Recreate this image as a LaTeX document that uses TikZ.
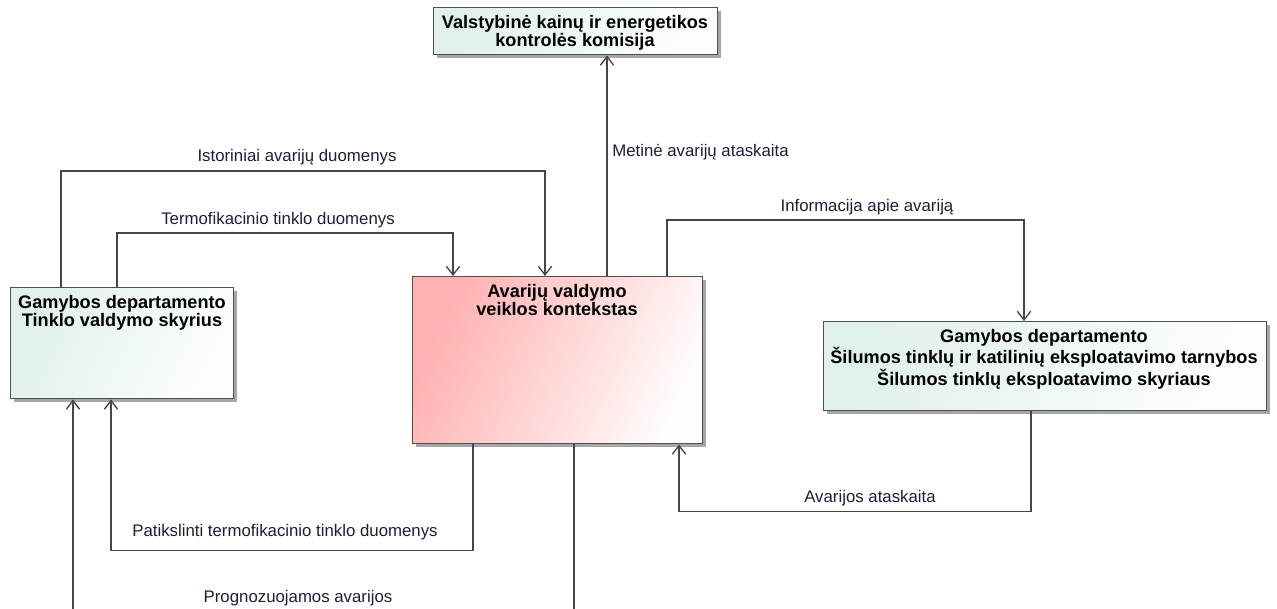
\documentclass[tikz,border=0pt]{standalone}
\usepackage{fontspec}
\setmainfont{Liberation Sans}
\usetikzlibrary{arrows.meta,calc,shadows}

\definecolor{boxedge}{RGB}{80,80,80}
\definecolor{wire}{RGB}{70,70,70}
\definecolor{labelink}{RGB}{28,30,58}
\definecolor{mint}{RGB}{224,241,232}
\definecolor{mintend}{RGB}{252,254,253}
\definecolor{rose}{RGB}{255,176,176}
\definecolor{roseend}{RGB}{255,252,252}

\begin{document}
\begin{tikzpicture}[x=0.75pt,y=-0.75pt,
  box/.style 2 args={draw=boxedge, line width=1.1pt, anchor=north west, inner sep=0pt,
    minimum width=#1*0.75pt, minimum height=#2*0.75pt,
    general shadow={fill=black!35, shadow xshift=2.3pt, shadow yshift=-2.3pt}},
  greenbox/.style={top color=mint, bottom color=mintend, shading angle=65},
  pinkbox/.style={top color=rose, bottom color=roseend, shading angle=65},
  title/.style={anchor=north, inner sep=0pt, align=center,
    font=\fontsize{13.6}{13.5}\selectfont\bfseries, text=black},
  flowlabel/.style={inner sep=0pt, text=labelink, font=\fontsize{12.6}{15}\selectfont},
  flow/.style={draw=wire, line width=1pt,
    -{Straight Barb[length=6.5pt,width=10pt]}}]

\useasboundingbox (0,0) rectangle (1277,609);
\fill[white] (0,0) rectangle (1277,609);
\clip (0,0) rectangle (1277,609);

% boxes
\node[box={284}{47}, greenbox] (reg) at (433,7) {};
\node[box={223}{111}, greenbox] (tinklo) at (10,287) {};
\node[box={290}{167}, pinkbox] (ctx) at (412,276) {};
\node[box={443}{89}, greenbox] (silumos) at (823,321) {};

% box titles
\node[title] (reg-t) at (575,15) {Valstybinė kainų ir energetikos\\kontrolės komisija};
\node[title] (tinklo-t) at (122,295) {Gamybos departamento\\Tinklo valdymo skyrius};
\node[title] (ctx-t) at (557,284) {Avarijų valdymo\\veiklos kontekstas};
\node[title] (silumos-t) at (1044,329) {Gamybos departamento\\Šilumos tinklų ir katilinių eksploatavimo tarnybos\\Šilumos tinklų eksploatavimo skyriaus};

% flows
\draw[flow] ($(tinklo.north west)+(51,0)$) -- ++(0,-116) -| ($(ctx.north west)+(133,0)$);
\node[flowlabel, anchor=base] (l-ist) at (297,162) {Istoriniai avarijų duomenys};

\draw[flow] ($(tinklo.north west)+(107,0)$) -- ++(0,-54) -| ($(ctx.north west)+(41,0)$);
\node[flowlabel, anchor=base] (l-term) at (278,225) {Termofikacinio tinklo duomenys};

\draw[flow] ($(ctx.north west)+(195,0)$) -- ($(reg.south west)+(174,0)$);
\node[flowlabel, anchor=base west] (l-met) at (612,157) {Metinė avarijų ataskaita};

\draw[flow] ($(ctx.north west)+(255,0)$) -- ++(0,-56) -| ($(silumos.north west)+(201,0)$);
\node[flowlabel, anchor=base] (l-info) at (867,212) {Informacija apie avariją};

\draw[flow] ($(silumos.south west)+(208,0)$) -- ++(0,100) -| ($(ctx.south west)+(267,0)$);
\node[flowlabel, anchor=base] (l-ava) at (870,502) {Avarijos ataskaita};

\draw[flow] ($(ctx.south west)+(61,0)$) -- ++(0,106) -| ($(tinklo.south west)+(101,0)$);
\node[flowlabel, anchor=base] (l-pat) at (285,536) {Patikslinti termofikacinio tinklo duomenys};

\draw[flow] ($(ctx.south west)+(162,0)$) -- ++(0,197) -| ($(tinklo.south west)+(63,0)$);
\node[flowlabel, anchor=base] (l-prog) at (298,602) {Prognozuojamos avarijos};

\end{tikzpicture}
\end{document}
